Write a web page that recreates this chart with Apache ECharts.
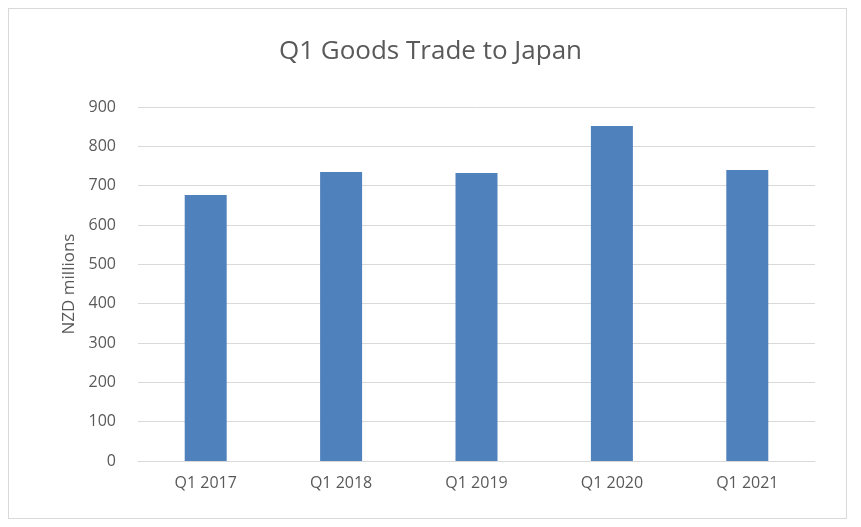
<!DOCTYPE html>
<html><head><meta charset="utf-8">
<script src="https://cdn.jsdelivr.net/npm/echarts@6/dist/echarts.min.js"></script>
<style>html,body{margin:0;padding:0;background:#fff}#frame{position:absolute;left:8px;top:8px;width:839px;height:511px;border:1px solid #d9d9d9;box-sizing:border-box}#c{width:861px;height:527px}</style>
</head><body><div id="frame"></div><div id="c"></div>
<script>
const categories = ["Q1 2017","Q1 2018","Q1 2019","Q1 2020","Q1 2021"];
const values = [676, 735, 732, 852, 740];
const chart = echarts.init(document.getElementById('c'));
chart.setOption({
  animation:false,
  title:{text:'Q1 Goods Trade to Japan',left:'center',top:34,textStyle:{fontFamily:'Open Sans',fontSize:26,fontWeight:'normal',color:'#595959'}},
  grid:{left:138,right:46,top:107,bottom:66},
  xAxis:{type:'category',data:categories,axisTick:{show:false},axisLine:{lineStyle:{color:'#d9d9d9'}},axisLabel:{color:'#595959',fontSize:16,fontFamily:'Open Sans',margin:14}},
  yAxis:{type:'value',min:0,max:900,interval:100,name:'NZD millions',nameLocation:'middle',nameGap:58,nameTextStyle:{color:'#595959',fontSize:17,fontFamily:'Open Sans'},axisLabel:{color:'#595959',fontSize:16,fontFamily:'Open Sans',margin:22},splitLine:{lineStyle:{color:'#d9d9d9'}}},
  series:[{type:'bar',data:values,barWidth:42,itemStyle:{color:'#4f81bd'}}]
});
</script></body></html>
